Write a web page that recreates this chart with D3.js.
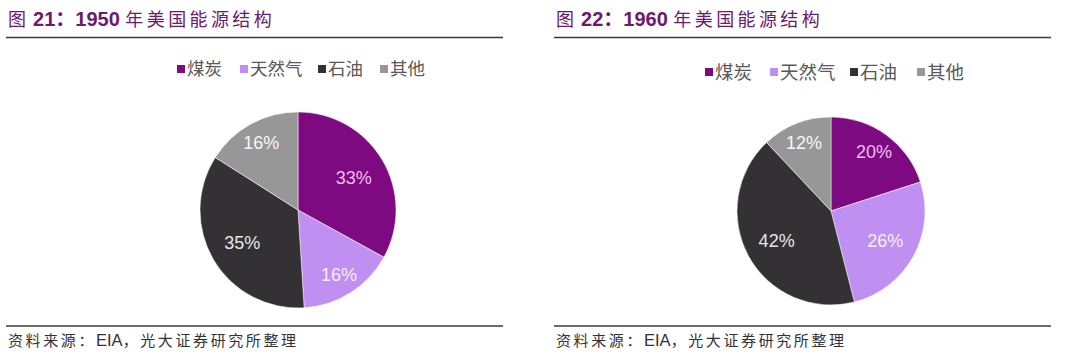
<!DOCTYPE html>
<html><head><meta charset="utf-8">
<script src="https://cdn.jsdelivr.net/npm/d3@7"></script>
<style>body{margin:0;background:#fff}</style>
</head><body>
<svg id="c" width="1080" height="360"></svg>
<script>
const categories = ["煤炭", "天然气", "石油", "其他"];
const colors = ["#7d0a80", "#c08ff2", "#333134", "#979797"];
const labelColors = ["#f3bff3", "#f6eefe", "#e6e6e6", "#f6f6f6"];
const values1950 = [33, 16, 35, 16];
const values1960 = [20, 26, 42, 12];
const panels = [
  {num: "21", year: "1950", values: values1950, x0: 0, cx: 298, cy: 210, r: 98,
   legendX: 177, legendY: 69, legendOffsets: [0, 63, 141, 203], legendFont: 17.5},
  {num: "22", year: "1960", values: values1960, x0: 548, cx: 831, cy: 211, r: 94,
   legendX: 705, legendY: 72, legendOffsets: [0, 65, 145, 212], legendFont: 18.5}
];
const svg = d3.select("#c");
const font = "'Liberation Sans', 'Noto Sans CJK SC', sans-serif";
const cjk = "'Noto Sans CJK SC', 'Liberation Sans', sans-serif";

panels.forEach(p => {
  const g = svg.append("g");
  // Title
  const t = g.append("text").attr("x", p.x0 + 8).attr("y", 26)
    .attr("fill", "#6b1a6d").attr("font-size", 18).attr("font-family", cjk);
  t.append("tspan").text("图 ");
  t.append("tspan").attr("dx", 3).attr("font-weight", "bold").attr("font-size", 20).attr("font-family", font)
    .text(p.num + "：" + p.year + " ");
  t.append("tspan").attr("letter-spacing", 3.4).text("年美国能源结构");
  // rules
  g.append("line").attr("x1", p.x0 + 6).attr("x2", p.x0 + 503).attr("y1", 37.5).attr("y2", 37.5)
    .attr("stroke", "#3a3a3a").attr("stroke-width", 1.5);
  g.append("line").attr("x1", p.x0 + 6).attr("x2", p.x0 + 503).attr("y1", 326).attr("y2", 326)
    .attr("stroke", "#3a3a3a").attr("stroke-width", 1.5);
  // source
  const s = g.append("text").attr("x", p.x0 + 8).attr("y", 346)
    .attr("fill", "#333").attr("font-size", 15).attr("font-family", cjk);
  s.append("tspan").attr("letter-spacing", 2.6).text("资料来源：");
  s.append("tspan").attr("font-family", font).attr("font-size", 16.5).text("EIA");
  s.append("tspan").attr("letter-spacing", 2.6).text("，光大证券研究所整理");

  // legend
  const lg = g.append("g").attr("transform", `translate(${p.legendX},${p.legendY})`);
  categories.forEach((c, i) => {
    const it = lg.append("g").attr("transform", `translate(${p.legendOffsets[i]},0)`);
    it.append("rect").attr("x", 0).attr("y", -4).attr("width", 8).attr("height", 8).attr("fill", colors[i]);
    it.append("text").attr("x", 10).attr("y", 0).attr("dy", "0.36em").attr("font-size", p.legendFont)
      .attr("fill", "#595959").attr("font-family", cjk).text(c);
  });

  // pie
  const pie = d3.pie().sort(null).value(d => d);
  const arcs = pie(p.values);
  const arc = d3.arc().innerRadius(0).outerRadius(p.r);
  const pg = g.append("g").attr("transform", `translate(${p.cx},${p.cy})`);
  pg.selectAll("path").data(arcs).join("path")
    .attr("d", arc).attr("fill", (d, i) => colors[i])
    .attr("stroke", "#ffffff").attr("stroke-width", 0.5);
  pg.selectAll("text").data(arcs).join("text")
    .attr("transform", d => {
      const lr = d.data <= 20 ? p.r * 0.78 : p.r * 0.66;
      const a = d3.arc().innerRadius(lr).outerRadius(lr);
      const [x, y] = a.centroid(d);
      return `translate(${x},${y})`;
    })
    .attr("text-anchor", "middle").attr("dy", "0.36em")
    .attr("font-size", 18).attr("font-family", font)
    .attr("fill", (d, i) => labelColors[i])
    .text(d => d.data + "%");
});
</script>
</body></html>
